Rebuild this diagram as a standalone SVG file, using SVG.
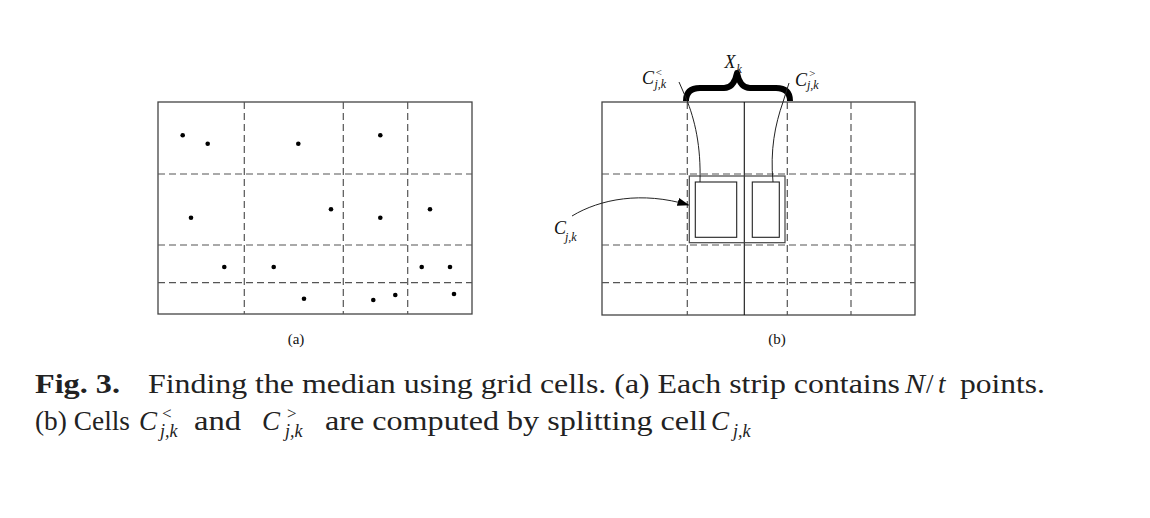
<svg xmlns="http://www.w3.org/2000/svg" width="1150" height="518" viewBox="0 0 1150 518">
<defs>
<style>
.frame{fill:none;stroke:#444;stroke-width:1.3}
.dash{fill:none;stroke:#555;stroke-width:1.2;stroke-dasharray:7,4}
.dot{fill:#000}
.thin{fill:none;stroke:#222;stroke-width:1}
.lab{font-family:"Liberation Serif",serif;font-style:italic;fill:#111}
.cap{font-family:"Liberation Serif",serif;fill:#222;font-size:27px}
.pl{font-family:"Liberation Serif",serif;font-size:15px;fill:#111}
</style>
<marker id="ah" viewBox="0 0 12 8" refX="11" refY="4" markerWidth="12" markerHeight="8" markerUnits="userSpaceOnUse" orient="auto">
<path d="M0,0 L12,4 L0,8 Z" fill="#000"/>
</marker>
</defs>
<rect width="1150" height="518" fill="#fff"/>

<g id="panel-a">
<rect class="frame" x="158" y="102" width="314" height="212"/>
<path class="dash" d="M244.3,102V314M343.3,102V314M407.7,102V314M158,174H472M158,245H472M158,282.7H472"/>
<g class="dot">
<circle cx="182.7" cy="135.3" r="2.3"/>
<circle cx="207.7" cy="143.7" r="2.3"/>
<circle cx="298.3" cy="143.7" r="2.3"/>
<circle cx="380.3" cy="135.3" r="2.3"/>
<circle cx="191" cy="217.7" r="2.3"/>
<circle cx="331" cy="209.3" r="2.3"/>
<circle cx="380.3" cy="217.7" r="2.3"/>
<circle cx="430" cy="209.3" r="2.3"/>
<circle cx="224.3" cy="267" r="2.3"/>
<circle cx="273.7" cy="267" r="2.3"/>
<circle cx="421.7" cy="267" r="2.3"/>
<circle cx="450" cy="267" r="2.3"/>
<circle cx="304" cy="298.7" r="2.3"/>
<circle cx="373.3" cy="300" r="2.3"/>
<circle cx="395.3" cy="295" r="2.3"/>
<circle cx="454" cy="294" r="2.3"/>
</g>
<text class="pl" x="296" y="344" text-anchor="middle">(a)</text>
</g>

<g id="panel-b">
<rect class="frame" x="602" y="102" width="313" height="213"/>
<path class="dash" d="M687.3,102V315M787.3,102V315M851,102V315M602,174H915M602,245H915M602,282.7H915"/>
<line x1="744.3" y1="102" x2="744.3" y2="315" stroke="#111" stroke-width="1.1"/>
<text class="pl" x="777" y="344" text-anchor="middle">(b)</text>
</g>

<g id="cell-cjk">
<rect x="689.3" y="176" width="95.7" height="66.7" fill="none" stroke="#444" stroke-width="1.2"/>
</g>
<g id="cell-less">
<rect x="695.3" y="182" width="41.4" height="55.3" fill="#fff" stroke="#222" stroke-width="1.1"/>
</g>
<g id="cell-greater">
<rect x="752.3" y="182" width="27" height="55.3" fill="#fff" stroke="#222" stroke-width="1.1"/>
</g>

<g id="brace-xk">
<path d="M686,101 Q686,88 700,88 L724,88 Q734,88 737,73 Q740,88 750,88 L776,88 Q790,88 790,101" fill="none" stroke="#000" stroke-width="6" stroke-linejoin="round"/>
<text class="lab" x="724.5" y="68" style="font-size:18px">X</text>
<text class="lab" x="736.5" y="73" style="font-size:12px">k</text>
</g>

<g id="label-cless">
<text class="lab" x="642" y="84" style="font-size:18px">C</text>
<text class="lab" x="655" y="75.5" style="font-size:11px">&lt;</text>
<text class="lab" x="654.5" y="87.5" style="font-size:12px">j,k</text>
</g>
<g id="label-cgreater">
<text class="lab" x="795" y="85.5" style="font-size:18px">C</text>
<text class="lab" x="808.5" y="77" style="font-size:11px">&gt;</text>
<text class="lab" x="807" y="89" style="font-size:12px">j,k</text>
</g>
<g id="label-cjk">
<text class="lab" x="554" y="233.5" style="font-size:18px">C</text>
<text class="lab" x="565" y="241" style="font-size:12px">j,k</text>
</g>

<g id="connectors">
<path class="thin" d="M679,82 L686,98 C695,120 701,146 700,182"/>
<path class="thin" d="M789,83 L783,102 C775,125 770,150 773,182"/>
<path class="thin" d="M572,216 C600,199 642,191 688.5,205" marker-end="url(#ah)"/>
</g>

<g id="caption">
<text class="cap" x="35" y="392.5" font-weight="bold" textLength="85" lengthAdjust="spacingAndGlyphs">Fig. 3.</text>
<text class="cap" x="148" y="392.5" textLength="752" lengthAdjust="spacingAndGlyphs">Finding the median using grid cells. (a) Each strip contains</text>
<text class="cap" x="905" y="392.5" font-style="italic" textLength="20" lengthAdjust="spacingAndGlyphs">N</text>
<text class="cap" x="926" y="392.5">/</text>
<text class="cap" x="938" y="392.5" font-style="italic">t</text>
<text class="cap" x="960" y="392.5" textLength="85" lengthAdjust="spacingAndGlyphs">points.</text>

<text class="cap" x="35" y="430" textLength="95" lengthAdjust="spacingAndGlyphs">(b) Cells</text>
<text class="cap" x="139" y="430" font-style="italic">C</text>
<text class="cap" x="162" y="418.5" style="font-size:17px">&lt;</text>
<text class="cap" x="160" y="437" font-style="italic" style="font-size:18px">j,k</text>
<text class="cap" x="194" y="430" textLength="47" lengthAdjust="spacingAndGlyphs">and</text>
<text class="cap" x="262" y="430" font-style="italic">C</text>
<text class="cap" x="287" y="418.5" style="font-size:17px">&gt;</text>
<text class="cap" x="285" y="437" font-style="italic" style="font-size:18px">j,k</text>
<text class="cap" x="325" y="430" textLength="382" lengthAdjust="spacingAndGlyphs">are computed by splitting cell</text>
<text class="cap" x="711" y="430" font-style="italic">C</text>
<text class="cap" x="733" y="437" font-style="italic" style="font-size:18px">j,k</text>
</g>
</svg>
